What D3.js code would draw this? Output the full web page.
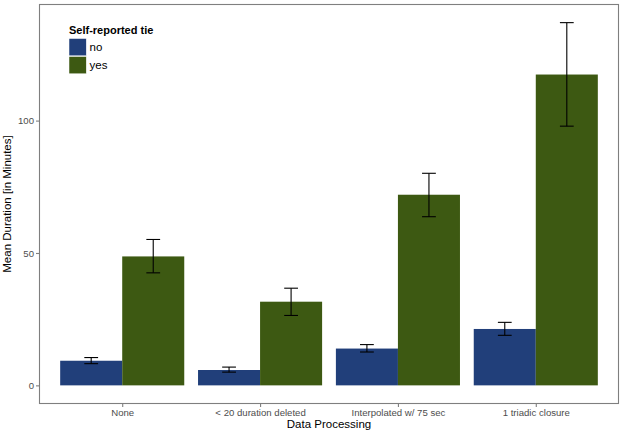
<!DOCTYPE html>
<html><head><meta charset="utf-8">
<script src="https://cdn.jsdelivr.net/npm/d3@7"></script>
<style>body{margin:0;background:#fff}svg{display:block;font-family:"Liberation Sans",Arial,sans-serif}</style>
</head><body><svg id="c" width="623" height="434"></svg>
<script>
const categories = ["None", "< 20 duration deleted", "Interpolated w/ 75 sec", "1 triadic closure"];
const groups = ["no", "yes"];
const meanNo  = [9.3, 5.8, 13.9, 21.3];
const meanYes = [48.7, 31.6, 72.0, 117.4];
const lowNo   = [8.2, 5.0, 12.6, 18.9];
const highNo  = [10.5, 6.9, 15.4, 23.8];
const lowYes  = [42.5, 26.4, 63.7, 97.9];
const highYes = [55.1, 36.7, 80.1, 137.0];
const yTicks = [0, 50, 100];
const colors = {no: "#213f7a", yes: "#3d5912"};

const svg = d3.select("#c");
const L = 39.5, R = 618.5, T = 4.5, B = 403.5;
const x = d3.scalePoint().domain(categories).range([L, R]).padding(0.6);
const step = x.step();
const y = d3.scaleLinear().domain([-6.85, 143.85]).range([B, T]);

const rows = [];
categories.forEach((c, i) => {
  rows.push({cat: c, g: "no", v: meanNo[i], lo: lowNo[i], hi: highNo[i]});
  rows.push({cat: c, g: "yes", v: meanYes[i], lo: lowYes[i], hi: highYes[i]});
});
const dodge = d3.scaleBand().domain(groups).range([-0.45 * step, 0.45 * step]);

svg.append("g").selectAll("rect").data(rows).join("rect")
  .attr("x", d => x(d.cat) + dodge(d.g))
  .attr("width", dodge.bandwidth())
  .attr("y", d => y(d.v))
  .attr("height", d => y(0) - y(d.v))
  .attr("fill", d => colors[d.g]);

const ew = 0.05 * step;
const eb = svg.append("g").attr("stroke", "#000").attr("stroke-width", 1.1);
rows.forEach(d => {
  const cx = x(d.cat) + dodge(d.g) + dodge.bandwidth() / 2;
  eb.append("line").attr("x1", cx).attr("x2", cx).attr("y1", y(d.lo)).attr("y2", y(d.hi));
  eb.append("line").attr("x1", cx - ew).attr("x2", cx + ew).attr("y1", y(d.lo)).attr("y2", y(d.lo));
  eb.append("line").attr("x1", cx - ew).attr("x2", cx + ew).attr("y1", y(d.hi)).attr("y2", y(d.hi));
});

svg.append("rect").attr("x", L).attr("y", T).attr("width", R - L).attr("height", B - T)
  .attr("fill", "none").attr("stroke", "#7f7f7f").attr("stroke-width", 1.1);

const yAxis = svg.append("g").attr("transform", `translate(${L},0)`)
  .call(d3.axisLeft(y).tickValues(yTicks).tickSize(3.5).tickPadding(2));
const xAxis = svg.append("g").attr("transform", `translate(0,${B})`)
  .call(d3.axisBottom(x).tickSize(3.5).tickPadding(2));
[yAxis, xAxis].forEach(a => {
  a.select(".domain").remove();
  a.selectAll(".tick line").attr("stroke", "#7f7f7f").attr("stroke-width", 1.1);
  a.selectAll(".tick text").attr("fill", "#4d4d4d").style("font-size", "9.6px").style("font-family", "Liberation Sans, Arial, sans-serif");
});

svg.append("text").attr("x", (L + R) / 2).attr("y", 428).attr("text-anchor", "middle")
  .style("font-size", "11.5px").attr("fill", "#000").text("Data Processing");
svg.append("text").attr("transform", `translate(11,${(T + B) / 2}) rotate(-90)`).attr("text-anchor", "middle")
  .style("font-size", "11.5px").attr("fill", "#000").text("Mean Duration [in Minutes]");

const lg = svg.append("g");
lg.append("text").attr("x", 69).attr("y", 34).style("font-size", "11px").style("font-weight", "bold").text("Self-reported tie");
groups.forEach((g, i) => {
  lg.append("rect").attr("x", 69).attr("y", 38.5 + i * 18).attr("width", 17.3).attr("height", 17.3)
    .attr("fill", colors[g]).attr("stroke", "#fff").attr("stroke-width", 0.5);
  lg.append("text").attr("x", 89.5).attr("y", 47 + i * 18).attr("dy", "0.35em").style("font-size", "11.5px").text(g);
});
</script></body></html>
